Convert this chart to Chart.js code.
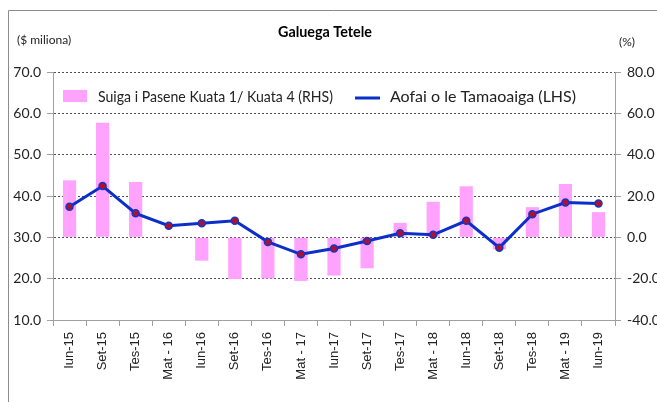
<!DOCTYPE html>
<html>
<head>
<meta charset="utf-8">
<script src="https://cdn.jsdelivr.net/npm/chart.js@4.4.1/dist/chart.umd.min.js"></script>
<style>
  html, body { margin: 0; padding: 0; background: #fff; overflow: hidden; }
  #wrap { position: relative; width: 657px; height: 402px; }
</style>
</head>
<body>
<div id="wrap"><canvas id="chart" width="657" height="402"></canvas></div>
<script>
// Quarter labels (Samoan month abbreviations)
const categories = ["Iun-15", "Set-15", "Tes-15", "Mat - 16", "Iun-16", "Set-16", "Tes-16", "Mat - 17",
    "Iun-17", "Set-17", "Tes-17", "Mat - 18", "Iun-18", "Set-18", "Tes-18", "Mat - 19", "Iun-19"];

// Aofai o le Tamaoaiga (LHS, $ miliona)
const aofai = [37.4, 42.4, 35.8, 32.8, 33.4, 34.0, 28.9, 25.9, 27.3, 29.1, 31.0, 30.6, 34.0, 27.5, 35.6, 38.4, 38.2];

// Suiga i Pasene Kuata 1/ Kuata 4 (RHS, %)
const suiga = [27.6, 55.4, 26.8, 0.4, -11.3, -20.2, -19.9, -21.1, -18.5, -15.0, 7.0, 17.2, 24.7, -5.8, 14.6, 25.8, 12.2];

const leftRange = [10, 70, 10];
const rightRange = [-40, 80, 20];

const tickFont = { family: "Lato", size: 14 };

// draw text squeezed horizontally to a given width (source is a stretched export)
function fitText(ctx, text, x, y, width) {
    const w = ctx.measureText(text).width;
    const sx = Math.min(1, width / w);
    ctx.save();
    ctx.translate(x, y);
    ctx.scale(sx, 1);
    ctx.fillText(text, 0, 0);
    ctx.restore();
}

// Title, unit labels, frame and in-plot legend
const decorations = {
    id: "decorations",
    beforeDraw(chart) {
        const ctx = chart.ctx;
        ctx.save();
        ctx.strokeStyle = "#8c8c8c";
        ctx.lineWidth = 1;
        ctx.beginPath();
        ctx.moveTo(8.5, 420);
        ctx.lineTo(8.5, 10.5);
        ctx.lineTo(700, 10.5);
        ctx.stroke();

        ctx.fillStyle = "#000";
        ctx.textBaseline = "middle";
        ctx.textAlign = "left";
        ctx.font = "bold 15px Lato";
        fitText(ctx, "Galuega Tetele", 278, 32, 94);

        ctx.font = "12px Lato";
        ctx.fillStyle = "#222";
        fitText(ctx, "($ miliona)", 17, 40, 56);
        fitText(ctx, "(%)", 619, 42, 19);
        ctx.restore();
    },
    afterDatasetsDraw(chart) {
        const ctx = chart.ctx;
        const ds = chart.data.datasets;
        ctx.save();
        ctx.textBaseline = "middle";
        ctx.textAlign = "left";
        // bar entry
        ctx.fillStyle = ds[0].backgroundColor;
        ctx.fillRect(63, 90, 24, 12);
        ctx.fillStyle = "#222";
        ctx.font = "16px Lato";
        fitText(ctx, ds[0].label, 98, 97, 235);
        // line entry
        ctx.strokeStyle = ds[1].borderColor;
        ctx.lineWidth = 3;
        ctx.beginPath();
        ctx.moveTo(355, 98);
        ctx.lineTo(380, 98);
        ctx.stroke();
        fitText(ctx, ds[1].label, 390, 97, 190);
        ctx.restore();
    }
};

new Chart(document.getElementById("chart"), {
    type: "bar",
    data: {
        labels: categories,
        datasets: [{
            type: "bar",
            label: "Suiga i Pasene Kuata 1/ Kuata 4 (RHS)",
            data: suiga,
            yAxisID: "y1",
            backgroundColor: "#ffa3ff",
            categoryPercentage: 1,
            barPercentage: 0.4,
            order: 2
        }, {
            type: "line",
            label: "Aofai o le Tamaoaiga (LHS)",
            data: aofai,
            yAxisID: "y",
            borderColor: "#0b2fc9",
            borderWidth: 3,
            tension: 0,
            pointRadius: 3.5,
            pointBackgroundColor: "#b0102a",
            pointBorderColor: "#1436c4",
            pointBorderWidth: 1.5,
            order: 1
        }]
    },
    options: {
        responsive: false,
        animation: false,
        devicePixelRatio: 1,
        layout: { padding: { top: 72, left: 0, right: 0, bottom: 0 } },
        plugins: {
            legend: { display: false },
            title: { display: false },
            tooltip: { enabled: false }
        },
        scales: {
            x: {
                offset: true,
                grid: {
                    offset: true,
                    drawOnChartArea: false,
                    drawTicks: true,
                    tickLength: 6,
                    tickColor: "#a0a0a0"
                },
                border: { color: "#a0a0a0" },
                ticks: {
                    autoSkip: false,
                    minRotation: 90,
                    maxRotation: 90,
                    padding: 6,
                    color: "#222",
                    font: { family: "Liberation Sans", size: 13 }
                },
                afterFit: (scale) => { scale.height = 82; }
            },
            y: {
                position: "left",
                min: leftRange[0],
                max: leftRange[1],
                ticks: {
                    stepSize: leftRange[2],
                    padding: 6,
                    color: "#222",
                    font: tickFont,
                    callback: (v) => v.toFixed(1)
                },
                grid: {
                    color: (c) => (c.tick && c.tick.value === leftRange[0]) ? "rgba(0,0,0,0)" : "#505050",
                    tickBorderDash: [],
                    tickColor: "#a0a0a0",
                    tickLength: 6
                },
                border: { color: "#a0a0a0", dash: [2, 2] },
                afterFit: (scale) => { scale.width = 53; }
            },
            y1: {
                position: "right",
                min: rightRange[0],
                max: rightRange[1],
                ticks: {
                    stepSize: rightRange[2],
                    padding: 6,
                    color: "#222",
                    font: tickFont,
                    callback: (v) => v.toFixed(1)
                },
                grid: {
                    drawOnChartArea: false,
                    tickColor: "#a0a0a0",
                    tickLength: 6
                },
                border: { color: "#a0a0a0" },
                afterFit: (scale) => { scale.width = 42; }
            }
        }
    },
    plugins: [decorations]
});
</script>
</body>
</html>
